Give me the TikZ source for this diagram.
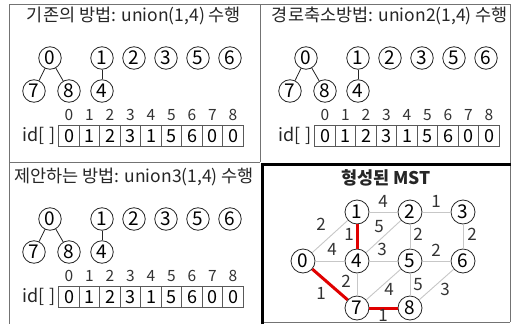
\documentclass[tikz,border=0pt]{standalone}
\usepackage{fontspec}
\setmainfont{Noto Sans CJK KR}
\begin{document}
\begin{tikzpicture}[x=1pt,y=-1pt,
  frame/.style={draw=black!55,line width=0.8pt},
  thickframe/.style={draw=black,line width=3pt},
  title/.style={font=\fontsize{17.5}{17.5}\selectfont,text=black!85,inner sep=0pt},
  vx/.style={circle,draw=black!85,line width=0.8pt,minimum size=22.5pt,inner sep=0pt,font=\fontsize{19}{19}\selectfont},
  mvx/.style={circle,draw=black!85,line width=0.8pt,minimum size=24pt,inner sep=0pt,font=\fontsize{19}{19}\selectfont},
  tline/.style={draw=black!85,line width=0.8pt},
  cell/.style={draw=black!65,line width=0.8pt,minimum width=20.5pt,minimum height=21pt,inner sep=0pt,font=\fontsize{18}{18}\selectfont},
  idx/.style={inner sep=0pt,font=\fontsize{15.5}{15.5}\selectfont,text=black!80},
  lbl/.style={inner sep=0pt,font=\fontsize{18}{18}\selectfont,text=black!85},
  gedge/.style={draw=black!22,line width=0.9pt},
  redge/.style={draw=red!88!black,line width=3pt},
  wlbl/.style={inner sep=0pt,font=\fontsize{17}{17}\selectfont,text=black!80}
]
\useasboundingbox (0,0) rectangle (511,324);
\fill[white] (0,0) rectangle (511,324);

\newcommand{\ufpanel}[4]{%
\begin{scope}[shift={(#2,#3)}]
\node[title] (#1t) at (134,16) {#4};
\node[vx] (#1n0) at (50,58) {0};
\node[vx] (#1n1) at (102,58) {1};
\node[vx] (#1n2) at (134,58) {2};
\node[vx] (#1n3) at (166,58) {3};
\node[vx] (#1n5) at (198,58) {5};
\node[vx] (#1n6) at (230,58) {6};
\node[vx] (#1n7) at (34,91) {7};
\node[vx] (#1n8) at (69,91) {8};
\node[vx] (#1n4) at (102,91) {4};
\draw[tline] (#1n0) -- (#1n7);
\draw[tline] (#1n0) -- (#1n8);
\draw[tline] (#1n1) -- (#1n4);
\node[lbl] (#1id) at (39,136) {id[ ]};
\foreach \v [count=\i from 0] in {0,1,2,3,1,5,6,0,0} {
  \node[cell] (#1c\i) at (69+20.5*\i,136) {\v};
  \node[idx] (#1x\i) at (69+20.5*\i,115) {\i};
}
\end{scope}}

% frames
\draw[frame] (9,4) -- (510,4);
\draw[frame] (9,4) -- (9,324);
\draw[frame] (260,4) -- (260,162);
\draw[frame] (9,162) -- (260,162);
\draw[frame] (510,4) -- (510,322);
\draw[frame] (262,322) -- (510,322);
\draw[thickframe] (262,324) -- (262,164.5) -- (511,164.5);

\ufpanel{a}{0}{0}{기존의 방법: union(1,4) 수행}
\ufpanel{b}{256}{0}{경로축소방법: union2(1,4) 수행}
\ufpanel{c}{0}{161}{제안하는 방법: union3(1,4) 수행}

% MST panel
\node[title,font=\fontsize{17.5}{17.5}\selectfont\bfseries] (mt) at (386,178) {형성된 MST};
\node[mvx] (m1) at (357,212) {1};
\node[mvx] (m2) at (410,212) {2};
\node[mvx] (m3) at (463,212) {3};
\node[mvx] (m0) at (303,261) {0};
\node[mvx] (m4) at (357,261) {4};
\node[mvx] (m5) at (410,261) {5};
\node[mvx] (m6) at (463,261) {6};
\node[mvx] (m7) at (357,308) {7};
\node[mvx] (m8) at (410,308) {8};

\draw[gedge] (m0) -- (m1);
\draw[gedge] (m0) -- (m4);
\draw[gedge] (m1) -- (m2);
\draw[gedge] (m2) -- (m4);
\draw[gedge] (m2) -- (m3);
\draw[gedge] (m2) -- (m5);
\draw[gedge] (m3) -- (m6);
\draw[gedge] (m4) -- (m5);
\draw[gedge] (m5) -- (m6);
\draw[gedge] (m4) -- (m7);
\draw[gedge] (m5) -- (m7);
\draw[gedge] (m5) -- (m8);
\draw[gedge] (m6) -- (m8);
\draw[redge] (m0) -- (m7);
\draw[redge] (m1) -- (m4);
\draw[redge] (m7) -- (m8);

\node[wlbl] (w01) at (321,224) {2};
\node[wlbl] (w04) at (332,249) {4};
\node[wlbl] (w07) at (321,293) {1};
\node[wlbl] (w12) at (383,201) {4};
\node[wlbl] (w14) at (349,234) {1};
\node[wlbl] (w24) at (379,227) {5};
\node[wlbl] (w23) at (436,201) {1};
\node[wlbl] (w25) at (418,234) {2};
\node[wlbl] (w36) at (472,234) {2};
\node[wlbl] (w45) at (382,249) {3};
\node[wlbl] (w56) at (436,250) {2};
\node[wlbl] (w47) at (346,281) {2};
\node[wlbl] (w57) at (389,289) {4};
\node[wlbl] (w58) at (418,285) {5};
\node[wlbl] (w68) at (445,289) {3};
\node[wlbl] (w78) at (383,315) {1};
\end{tikzpicture}
\end{document}
